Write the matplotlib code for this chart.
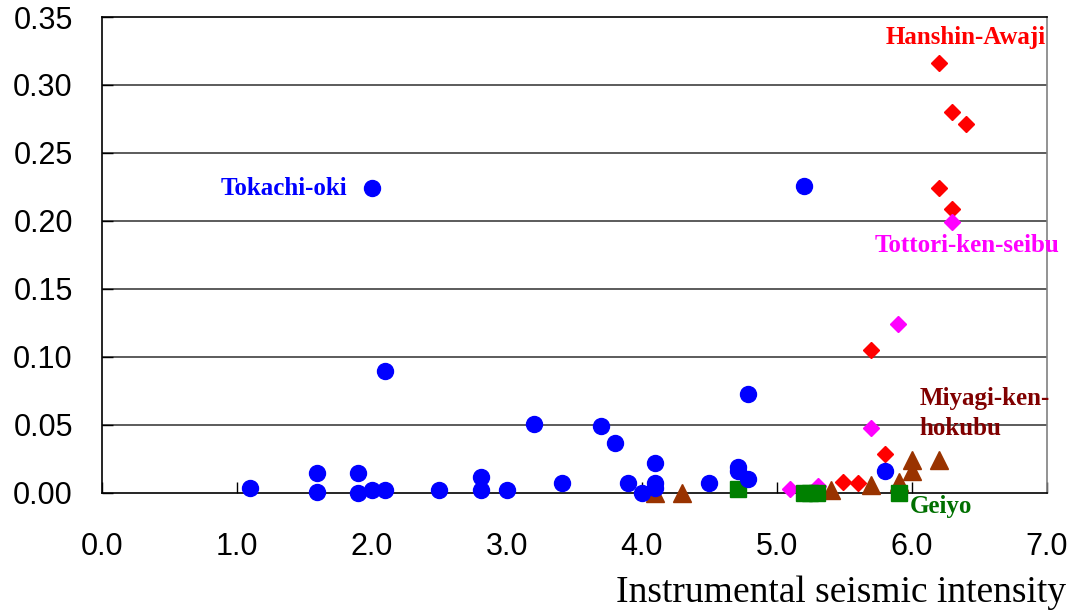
import matplotlib
matplotlib.use("Agg")
import matplotlib.pyplot as plt

# Tokachi-oki (blue circles)
tokachi_x = [1.1, 1.59, 1.59, 1.9, 1.9, 2.0, 2.0, 2.1, 2.1, 2.5, 2.81, 2.81, 3.0,
             3.2, 3.41, 3.7, 3.8, 3.9, 4.0, 4.1, 4.1, 4.1, 4.5, 4.71, 4.71, 4.79,
             4.79, 5.2, 5.8]
tokachi_y = [0.0035, 0.015, 0.001, 0.015, 0.0, 0.224, 0.002, 0.090, 0.002, 0.002,
             0.012, 0.002, 0.002, 0.051, 0.007, 0.049, 0.037, 0.007, 0.0, 0.022,
             0.007, 0.004, 0.007, 0.019, 0.016, 0.073, 0.010, 0.226, 0.016]

# Hanshin-Awaji (red diamonds)
hanshin_x = [5.49, 5.6, 5.7, 5.8, 6.2, 6.3, 6.4, 6.2, 6.3]
hanshin_y = [0.008, 0.007, 0.105, 0.029, 0.316, 0.280, 0.271, 0.224, 0.209]

# Tottori-ken-seibu (magenta diamonds)
tottori_x = [5.1, 5.31, 5.7, 5.9, 6.3]
tottori_y = [0.003, 0.005, 0.048, 0.124, 0.199]

# Miyagi-ken-hokubu (brown triangles)
miyagi_x = [4.1, 4.3, 5.4, 5.7, 5.91, 6.0, 6.0, 6.2]
miyagi_y = [0.0, 0.0, 0.002, 0.006, 0.008, 0.024, 0.016, 0.024]

# Geiyo (green squares)
geiyo_x = [4.71, 5.2, 5.25, 5.3, 5.91]
geiyo_y = [0.003, 0.0, 0.0, 0.0, 0.0]

xticks = [0, 1, 2, 3, 4, 5, 6, 7]
yticks = [0.0, 0.05, 0.10, 0.15, 0.20, 0.25, 0.30, 0.35]

sans = ['Liberation Sans', 'DejaVu Sans']
serif = ['Liberation Serif', 'DejaVu Serif']

fig = plt.figure(figsize=(10.76, 6.16), dpi=100)
ax = fig.add_axes([0.0948, 0.1997, 0.8778, 0.7727])

for y in yticks[1:-1]:
    ax.axhline(y, color='#404040', lw=1.2, zorder=1)

ax.plot(miyagi_x, miyagi_y, '^', color='#993300', ms=12.5, clip_on=False, zorder=3)
ax.plot(hanshin_x, hanshin_y, 'D', color='#ff0000', ms=8.2, clip_on=False, zorder=3)
ax.plot(tottori_x, tottori_y, 'D', color='#ff00ff', ms=8.2, clip_on=False, zorder=3)
ax.plot(geiyo_x, geiyo_y, 's', color='#008000', ms=11, clip_on=False, zorder=4)
ax.plot(tokachi_x, tokachi_y, 'o', color='#0000ff', ms=11.5, clip_on=False, zorder=5)

ax.set_xlim(0, 7)
ax.set_ylim(0, 0.35)
ax.set_xticks(xticks)
ax.set_xticklabels([f'{v:.1f}' for v in xticks], family=sans, fontsize=22)
ax.set_yticks(yticks)
ax.set_yticklabels([f'{v:.2f}' for v in yticks], family=sans, fontsize=22)
ax.tick_params(axis='x', direction='in', length=8, width=1, pad=28)
ax.tick_params(axis='y', direction='in', length=8, width=1, pad=21)
for s in ax.spines.values():
    s.set_color('black')
    s.set_linewidth(1.2)
ax.spines['right'].set_color('#808080')

lab = dict(family=serif, fontweight='bold', fontsize=18, clip_on=False)
ax.text(6.40, 0.335, 'Hanshin-Awaji', color='#ff0000', ha='center', va='center', **lab)
ax.text(1.82, 0.224, 'Tokachi-oki', color='#0000ff', ha='right', va='center', **lab)
ax.text(6.41, 0.182, 'Tottori-ken-seibu', color='#ff00ff', ha='center', va='center', **lab)
ax.text(6.06, 0.0585, 'Miyagi-ken-\nhokubu', color='#800000', ha='left', va='center',
        linespacing=1.35, **lab)
ax.text(5.99, -0.0096, 'Geiyo', color='#007000', ha='left', va='center', **lab)

fig.text(1066 / 1076, 1 - 593 / 616, 'Instrumental seismic intensity',
         family=serif, fontsize=27, ha='right', va='center')

fig.savefig('out.png', dpi=100)
